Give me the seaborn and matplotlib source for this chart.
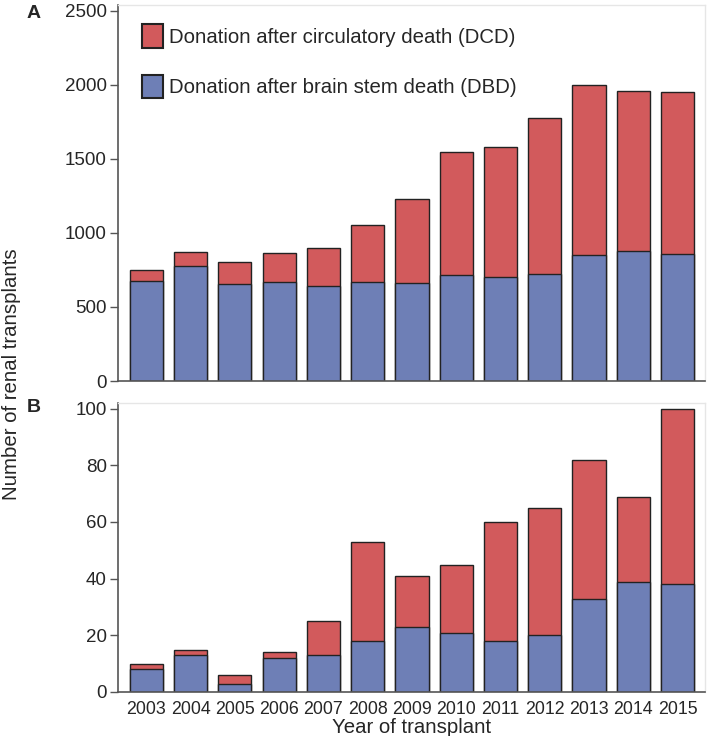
import numpy as np
import pandas as pd
import matplotlib
matplotlib.use('Agg')
import matplotlib.pyplot as plt
import matplotlib.patches as mpatches
import seaborn as sns

years = [str(y) for y in range(2003, 2016)]
# panel A: all renal transplants
a_dbd = [673, 774, 655, 666, 644, 666, 660, 716, 702, 725, 848, 878, 857]
a_total = [752, 871, 801, 864, 898, 1055, 1230, 1549, 1581, 1774, 2001, 1961, 1952]
# panel B
b_dbd = [8, 13, 3, 12, 13, 18, 23, 21, 18, 20, 33, 39, 38]
b_total = [10, 15, 6, 14, 25, 53, 41, 45, 60, 65, 82, 69, 100]

red = '#d25a5c'
blue = '#6e7fb6'
edge = '#222222'

sns.set_style('white')
plt.rcParams['font.family'] = ['Liberation Sans', 'DejaVu Sans']

fig = plt.figure(figsize=(7.09, 7.36), dpi=100)
axA = fig.add_axes([118/709, 1-381/736, 587/709, 376/736])
axB = fig.add_axes([118/709, 1-692/736, 587/709, 289/736])

dfA = pd.DataFrame({'year': years, 'dbd': a_dbd, 'total': a_total})
dfB = pd.DataFrame({'year': years, 'dbd': b_dbd, 'total': b_total})

for ax, df in [(axA, dfA), (axB, dfB)]:
    sns.barplot(data=df, x='year', y='total', color=red, saturation=1,
                edgecolor=edge, linewidth=1, width=0.75, ax=ax)
    sns.barplot(data=df, x='year', y='dbd', color=blue, saturation=1,
                edgecolor=edge, linewidth=1, width=0.75, ax=ax)
    ax.set_xlim(-0.64, 12.62)
    ax.set_xlabel('')
    ax.set_ylabel('')
    for s in ['left', 'bottom']:
        ax.spines[s].set_color('#555555')
        ax.spines[s].set_linewidth(1.2)
    for s in ['top', 'right']:
        ax.spines[s].set_color('#e6e6e6')
        ax.spines[s].set_linewidth(1)
    ax.tick_params(axis='y', which='major', left=True, length=6, width=1,
                   color='#555555', labelsize=13.5, pad=2)
    ax.tick_params(axis='x', bottom=False, labelsize=12.8, pad=3)

axA.set_ylim(0, 2540)
axA.set_yticks([0, 500, 1000, 1500, 2000, 2500])
axA.set_xticklabels([])
axB.set_ylim(0, 102)
axB.set_yticks([0, 20, 40, 60, 80, 100])
axB.set_xlabel('Year of transplant', fontsize=14.7, labelpad=0)

handles = [mpatches.Patch(facecolor=red, edgecolor=edge, linewidth=1.5),
           mpatches.Patch(facecolor=blue, edgecolor=edge, linewidth=1.5)]
axA.legend(handles, ['Donation after circulatory death (DCD)',
                     'Donation after brain stem death (DBD)'],
           loc='upper left', bbox_to_anchor=(0.01, 0.998), frameon=False,
           fontsize=14.7, handlelength=1.0, handleheight=1.42,
           labelspacing=1.3, handletextpad=0.3)

fig.text(12/709, 1-374/736, 'Number of renal transplants', rotation=90,
         fontsize=14.7, ha='center', va='center')
fig.text(34/709, 1-14/736, 'A', fontsize=14, fontweight='bold', ha='center', va='center')
fig.text(34/709, 1-408/736, 'B', fontsize=14, fontweight='bold', ha='center', va='center')

fig.savefig('out.png', dpi=100)
